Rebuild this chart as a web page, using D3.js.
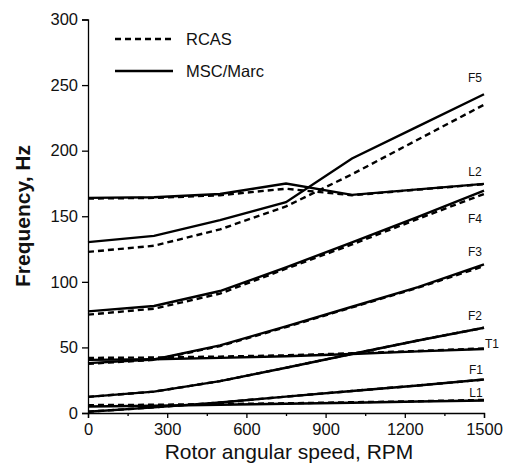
<!DOCTYPE html>
<html>
<head>
<meta charset="utf-8">
<script src="https://cdn.jsdelivr.net/npm/d3@7"></script>
<style>
  html, body { margin: 0; padding: 0; background: #fff; }
  svg { display: block; font-family: "Liberation Sans", Arial, sans-serif; }
</style>
</head>
<body>
<svg id="chart" width="507" height="468"></svg>
<script>
// ---- data ----
const rpm = [0, 250, 500, 750, 1000, 1250, 1500];
const modes = ["L1", "F1", "F2", "T1", "F3", "F4", "L2", "F5"];

// MSC/Marc (solid)
const marcL1 = [5, 5.5, 6.3, 7, 7.8, 8.8, 9.5];
const marcF1 = [1, 4.3, 8, 12.5, 16.8, 21, 25.5];
const marcF2 = [12.3, 16.3, 24.3, 34.5, 45, 55.3, 65];
const marcT1 = [40.5, 41, 42, 43.3, 45, 47, 48.8];
const marcF3 = [38, 40.8, 51.5, 66, 81, 96, 113.3];
const marcF4 = [77.5, 81.6, 93, 111, 130, 149.5, 169.5];
const marcL2 = [164, 164.5, 167, 175, 166.3, 170.5, 174.7];
const marcF5 = [130.3, 135, 147, 160.7, 194, 218.5, 243];

// RCAS (dashed)
const rcasL1 = [6, 6.3, 6.8, 7.4, 8.2, 9, 10];
const rcasF1 = [1, 4.3, 8, 12.5, 16.8, 21, 25.5];
const rcasF2 = [12.3, 16.3, 24.3, 34.5, 45, 55.3, 65];
const rcasT1 = [42, 42.3, 43, 44, 45.5, 47.3, 49.3];
const rcasF3 = [37.5, 40.5, 51, 65.5, 80.5, 95.5, 112];
const rcasF4 = [75, 79.5, 91, 110, 128.5, 148, 167];
const rcasL2 = [163.5, 164, 166, 171, 166, 170.3, 174.5];
const rcasF5 = [122.8, 127.5, 140, 157.5, 182, 208.5, 235];

const xTicks = [0, 300, 600, 900, 1200, 1500];
const xMinorTicks = [150, 450, 750, 1050, 1350];
const yTicks = [0, 50, 100, 150, 200, 250, 300];

const seriesNames = ["RCAS", "MSC/Marc"];
const xTitle = "Rotor angular speed, RPM";
const yTitle = "Frequency, Hz";

// ---- build ----
const marc = [marcL1, marcF1, marcF2, marcT1, marcF3, marcF4, marcL2, marcF5];
const rcas = [rcasL1, rcasF1, rcasF2, rcasT1, rcasF3, rcasF4, rcasL2, rcasF5];

const svg = d3.select("#chart");
const x = d3.scaleLinear().domain([0, 1500]).range([88, 484]);
const y = d3.scaleLinear().domain([0, 300]).range([413, 19.5]);

const line = d3.line().x((d, i) => x(rpm[i])).y(d => y(d));

const g = svg.append("g");

// RCAS dashed
g.selectAll("path.rcas").data(rcas).enter().append("path")
  .attr("class", "rcas")
  .attr("d", line)
  .attr("fill", "none")
  .attr("stroke", "#000")
  .attr("stroke-width", 2.4)
  .attr("stroke-dasharray", "6,4");

// MSC/Marc solid
g.selectAll("path.marc").data(marc).enter().append("path")
  .attr("class", "marc")
  .attr("d", line)
  .attr("fill", "none")
  .attr("stroke", "#000")
  .attr("stroke-width", 2.4);

// axes
const xAxis = svg.append("g")
  .attr("transform", `translate(0,${y(0)})`)
  .call(d3.axisBottom(x).tickValues(xTicks).tickSize(5).tickPadding(5).tickFormat(d3.format("d")));
const xMinor = svg.append("g")
  .attr("transform", `translate(0,${y(0)})`)
  .call(d3.axisBottom(x).tickValues(xMinorTicks).tickSize(3).tickFormat(""));
xMinor.select(".domain").remove();

const yAxis = svg.append("g")
  .attr("transform", `translate(${x(0)},0)`)
  .call(d3.axisLeft(y).tickValues(yTicks).tickSize(6).tickPadding(4).tickFormat(d3.format("d")));

[xAxis, xMinor, yAxis].forEach(a => {
  a.selectAll("path.domain").attr("stroke", "#000").attr("stroke-width", 1.3);
  a.selectAll(".tick line").attr("stroke", "#000").attr("stroke-width", 1.3);
  a.selectAll(".tick text").attr("fill", "#111").style("font-size", "16.5px")
    .style("font-family", '"Liberation Sans", Arial, sans-serif');
});

// axis titles
svg.append("text")
  .attr("x", 289).attr("y", 459)
  .attr("text-anchor", "middle")
  .style("font-size", "21px")
  .attr("fill", "#111")
  .text(xTitle);

svg.append("text")
  .attr("transform", "translate(30,216) rotate(-90)")
  .attr("text-anchor", "middle")
  .style("font-size", "21px")
  .style("font-weight", "bold")
  .attr("fill", "#111")
  .text(yTitle);

// legend
const legY = [39, 71];
const leg = svg.append("g");
seriesNames.forEach((name, i) => {
  leg.append("line")
    .attr("x1", 115).attr("x2", 173)
    .attr("y1", legY[i]).attr("y2", legY[i])
    .attr("stroke", "#000").attr("stroke-width", 2.6)
    .attr("stroke-dasharray", i === 0 ? "6,4" : null);
  leg.append("text")
    .attr("x", 186).attr("y", legY[i] + 6)
    .style("font-size", "16.5px")
    .attr("fill", "#111")
    .text(name);
});

// curve labels
const labelPos = {
  F5: [475, 82], L2: [475, 176], F4: [475, 223], F3: [475, 256],
  F2: [475, 320], T1: [492, 348], F1: [476, 374], L1: [476, 397]
};
modes.forEach(m => {
  svg.append("text")
    .attr("x", labelPos[m][0]).attr("y", labelPos[m][1])
    .attr("text-anchor", "middle")
    .style("font-size", "12px")
    .attr("fill", "#111")
    .text(m);
});
</script>
</body>
</html>
